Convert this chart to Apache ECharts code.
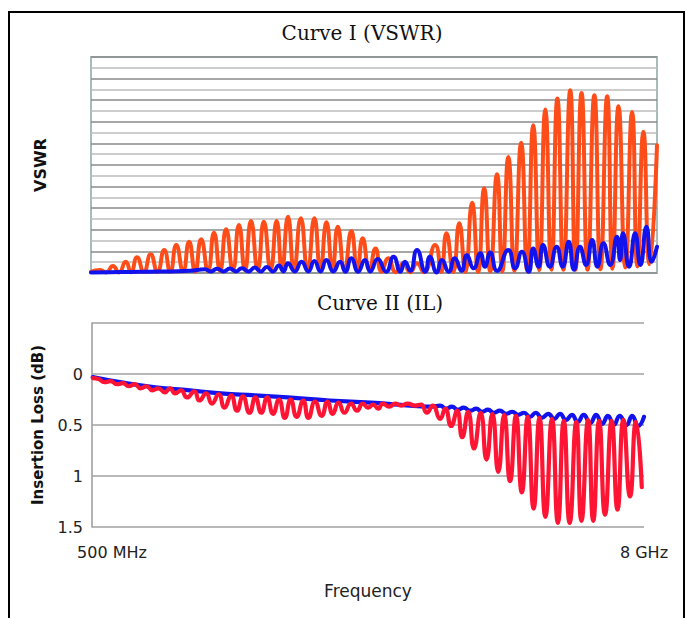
<!DOCTYPE html>
<html>
<head>
<meta charset="utf-8">
<title>Curve I (VSWR) / Curve II (IL)</title>
<script src="https://cdn.jsdelivr.net/npm/echarts@6.0.0/dist/echarts.min.js"></script>
<style>
  html, body { margin: 0; padding: 0; background: #fff; }
  #chart { width: 688px; height: 618px; }
</style>
</head>
<body>
<div id="chart"></div>
<script>
  // frequency axis end labels (GHz axis runs 0.5 .. 8)
  var freqLabels = ['500 MHz', '8 GHz']
  // insertion loss tick labels, -0.5 .. 1.5 step 0.5 (top one unlabeled)
  var ilTickLabels = ['', '0', '0.5', '1', '1.5']

  // Curve I - VSWR in grid units (20 divisions), [GHz, value]
  var vswrOrange = [
    [0.50, 0.10], [0.62, 0.28], [0.70, 0.05], [0.79, 0.65], [0.87, 0.05], [0.96, 1.04], [1.03, 0.08],
    [1.11, 1.45], [1.20, 0.10], [1.29, 1.73], [1.38, 0.10], [1.47, 2.13], [1.55, 0.12], [1.63, 2.59],
    [1.72, 0.15], [1.80, 2.89], [1.88, 0.15], [1.96, 3.12], [2.05, 0.20], [2.13, 3.73], [2.21, 0.20],
    [2.29, 4.04], [2.38, 0.25], [2.46, 4.44], [2.54, 0.25], [2.62, 4.81], [2.71, 0.30], [2.79, 4.74],
    [2.88, 0.30], [2.96, 4.81], [3.03, 0.30], [3.11, 5.21], [3.19, 0.30], [3.28, 5.06], [3.37, 0.30],
    [3.46, 5.06], [3.54, 0.30], [3.62, 4.69], [3.70, 0.30], [3.77, 4.28], [3.86, 0.30], [3.95, 3.88],
    [4.03, 0.30], [4.10, 3.21], [4.19, 0.30], [4.27, 2.28], [4.35, 0.12], [4.44, 1.36], [4.54, 0.08],
    [4.64, 0.90], [4.73, 0.08], [4.82, 0.90], [4.91, 0.08], [5.06, 2.59], [5.14, 0.10], [5.21, 3.67],
    [5.30, 0.10], [5.38, 4.60], [5.46, 0.10], [5.55, 6.50], [5.63, 0.10], [5.71, 7.83], [5.79, 0.15],
    [5.88, 9.15], [5.95, 0.15], [6.03, 10.75], [6.11, 0.20], [6.20, 12.05], [6.28, 0.20], [6.36, 13.68],
    [6.44, 0.25], [6.52, 15.14], [6.60, 0.30], [6.68, 16.15], [6.76, 0.30], [6.85, 16.92], [6.92, 0.30],
    [7.00, 16.67], [7.08, 0.30], [7.17, 16.46], [7.25, 0.35], [7.34, 16.37], [7.41, 0.40], [7.49, 15.44],
    [7.58, 0.50], [7.67, 14.91], [7.74, 0.60], [7.82, 13.07], [7.90, 0.80], [8.00, 11.84]
  ]
  var vswrBlue = [
    [0.50, 0.05], [0.75, 0.08], [1.02, 0.10], [1.28, 0.12], [1.55, 0.15], [1.81, 0.20],
    [2.01, 0.35], [2.09, 0.15], [2.17, 0.40], [2.26, 0.15], [2.34, 0.42], [2.42, 0.15], [2.50, 0.45],
    [2.59, 0.15], [2.67, 0.50], [2.75, 0.15], [2.83, 0.55], [2.91, 0.15], [2.99, 0.70], [3.05, 0.15],
    [3.11, 0.90], [3.20, 0.15], [3.29, 1.04], [3.38, 0.15], [3.46, 1.10], [3.54, 0.15], [3.62, 1.20],
    [3.71, 0.15], [3.80, 1.04], [3.87, 0.12], [3.95, 1.36], [4.04, 0.12], [4.13, 1.20], [4.20, 0.15],
    [4.30, 1.30], [4.41, 0.12], [4.51, 1.51], [4.60, 0.12], [4.66, 1.04], [4.73, 0.20], [4.82, 2.13],
    [4.93, 0.12], [4.99, 1.51], [5.08, 0.05], [5.15, 1.20], [5.24, 0.12], [5.32, 1.36], [5.41, 0.20],
    [5.48, 1.66], [5.57, 0.43], [5.66, 1.82], [5.72, 0.58], [5.79, 1.90], [5.88, 0.20], [6.03, 2.13],
    [6.12, 0.43], [6.21, 1.97], [6.30, 0.12], [6.36, 2.28], [6.43, 0.58], [6.49, 2.59], [6.58, 0.58],
    [6.67, 2.43], [6.75, 0.58], [6.83, 2.89], [6.90, 0.30], [6.98, 2.43], [7.06, 0.74], [7.14, 3.05],
    [7.21, 0.58], [7.29, 2.75], [7.38, 0.74], [7.47, 3.36], [7.51, 1.20], [7.55, 3.67], [7.63, 0.58],
    [7.71, 3.67], [7.78, 0.74], [7.86, 4.28], [7.93, 1.04], [8.00, 2.43]
  ]

  // Curve II - insertion loss in dB, [GHz, dB]
  var ilBlue = [
    [0.51, 0.03], [0.88, 0.08], [1.36, 0.13], [1.83, 0.16], [2.25, 0.19], [2.71, 0.21], [3.16, 0.23],
    [3.73, 0.26], [4.29, 0.28], [4.66, 0.30], [4.82, 0.31], [5.12, 0.32], [5.23, 0.31], [5.31, 0.34],
    [5.39, 0.32], [5.47, 0.35], [5.55, 0.33], [5.64, 0.36], [5.72, 0.34], [5.80, 0.37], [5.88, 0.35],
    [5.96, 0.38], [6.04, 0.36], [6.13, 0.39], [6.21, 0.37], [6.29, 0.40], [6.37, 0.38], [6.45, 0.42],
    [6.53, 0.38], [6.61, 0.43], [6.70, 0.39], [6.78, 0.44], [6.86, 0.39], [6.94, 0.45], [7.02, 0.40],
    [7.10, 0.47], [7.18, 0.40], [7.27, 0.48], [7.35, 0.40], [7.43, 0.49], [7.51, 0.41], [7.59, 0.50],
    [7.67, 0.41], [7.76, 0.50], [7.84, 0.41], [7.92, 0.51], [8.00, 0.42]
  ]
  var ilRed = [
    [0.51, 0.04], [0.59, 0.05], [0.67, 0.08], [0.75, 0.07], [0.84, 0.10], [0.92, 0.09], [1.00, 0.12],
    [1.08, 0.10], [1.16, 0.14], [1.24, 0.12], [1.32, 0.16], [1.40, 0.14], [1.49, 0.18], [1.56, 0.14],
    [1.63, 0.19], [1.71, 0.16], [1.79, 0.23], [1.89, 0.17], [1.96, 0.26], [2.05, 0.19], [2.13, 0.29],
    [2.22, 0.20], [2.30, 0.33], [2.39, 0.21], [2.47, 0.36], [2.55, 0.22], [2.64, 0.38], [2.72, 0.23],
    [2.80, 0.38], [2.88, 0.23], [2.96, 0.39], [3.04, 0.25], [3.12, 0.43], [3.20, 0.25], [3.28, 0.42],
    [3.37, 0.26], [3.44, 0.43], [3.53, 0.27], [3.62, 0.41], [3.70, 0.27], [3.77, 0.39], [3.85, 0.28],
    [3.93, 0.38], [4.02, 0.29], [4.10, 0.36], [4.18, 0.29], [4.25, 0.33], [4.32, 0.30], [4.39, 0.34],
    [4.45, 0.29], [4.54, 0.32], [4.62, 0.29], [4.70, 0.31], [4.79, 0.29], [4.89, 0.31], [4.97, 0.30],
    [5.05, 0.38], [5.13, 0.31], [5.23, 0.44], [5.30, 0.34], [5.38, 0.51], [5.46, 0.36], [5.53, 0.62],
    [5.61, 0.37], [5.69, 0.73], [5.78, 0.38], [5.86, 0.84], [5.94, 0.39], [6.02, 0.96], [6.10, 0.40],
    [6.18, 1.05], [6.26, 0.41], [6.34, 1.16], [6.42, 0.42], [6.50, 1.32], [6.58, 0.43], [6.66, 1.40],
    [6.75, 0.44], [6.83, 1.46], [6.91, 0.46], [6.99, 1.46], [7.08, 0.47], [7.15, 1.44], [7.24, 0.45],
    [7.31, 1.44], [7.39, 0.46], [7.47, 1.38], [7.56, 0.46], [7.64, 1.33], [7.72, 0.45], [7.81, 1.20],
    [7.89, 0.47], [7.97, 1.11]
  ]

  var sans = 'DejaVu Sans'
  var serif = 'DejaVu Serif'

  var chart = echarts.init(document.getElementById('chart'), null, {renderer: 'svg'})

  chart.setOption({
    animation: false,
    backgroundColor: '#fff',
    title: [
      {text: 'Curve I (VSWR)', left: 357, top: 18, textAlign: 'center',
        textStyle: {fontFamily: serif, fontSize: 20, fontWeight: 'normal', color: '#111'}},
      {text: 'Curve II (IL)', left: 375, top: 288, textAlign: 'center',
        textStyle: {fontFamily: serif, fontSize: 20, fontWeight: 'normal', color: '#111'}}
    ],
    graphic: [
      // outer frame
      {type: 'rect', shape: {x: 9, y: 12, width: 675, height: 630},
        style: {fill: 'none', stroke: '#000', lineWidth: 2}, silent: true}
    ],
    grid: [
      {left: 91, top: 57, width: 566, height: 216, show: true, borderColor: '#a7bbbb', borderWidth: 2},
      {left: 92, top: 323, width: 552, height: 204}
    ],
    xAxis: [
      {type: 'value', gridIndex: 0, min: 0.5, max: 8, show: false},
      {
        type: 'value', gridIndex: 1, min: 0.5, max: 8, interval: 7.5,
        axisLine: {show: false}, axisTick: {show: false}, splitLine: {show: false},
        axisLabel: {
          margin: 17, fontFamily: sans, fontSize: 16, color: '#222',
          formatter: function (v) {
            return v < 1 ? '{lo|' + freqLabels[0] + '}' : freqLabels[1]
          },
          rich: {lo: {padding: [0, 0, 0, 40], fontFamily: sans, fontSize: 16, color: '#222'}}
        },
        name: 'Frequency', nameLocation: 'middle', nameGap: 55,
        nameTextStyle: {fontFamily: sans, fontSize: 17, color: '#222'}
      }
    ],
    yAxis: [
      {
        type: 'value', gridIndex: 0, min: 0, max: 20, interval: 1,
        axisLine: {show: false}, axisTick: {show: false}, axisLabel: {show: false},
        splitLine: {lineStyle: {color: ['#8a8a8a', '#bcbcbc'], width: 1.6}},
        name: 'VSWR', nameLocation: 'middle', nameGap: 43,
        nameTextStyle: {fontFamily: sans, fontSize: 16, fontWeight: 'bold', color: '#111'}
      },
      {
        type: 'value', gridIndex: 1, inverse: true, min: -0.5, max: 1.5, interval: 0.5,
        axisLine: {show: true, lineStyle: {color: '#a0a0a0', width: 1.6}},
        axisTick: {show: false},
        axisLabel: {
          margin: 9, fontFamily: sans, fontSize: 16, color: '#222',
          formatter: function (v, i) { return ilTickLabels[i] }
        },
        splitLine: {lineStyle: {color: '#a0a0a0', width: 1.6}},
        name: 'Insertion Loss (dB)', nameLocation: 'middle', nameGap: 47,
        nameTextStyle: {fontFamily: sans, fontSize: 15, fontWeight: 'bold', color: '#111'}
      }
    ],
    series: [
      {type: 'line', name: 'VSWR 1', xAxisIndex: 0, yAxisIndex: 0, data: vswrOrange, smooth: 0.55,
        showSymbol: false, lineStyle: {color: '#ff4d1a', width: 4, cap: 'round', join: 'round'}},
      {type: 'line', name: 'VSWR 2', xAxisIndex: 0, yAxisIndex: 0, data: vswrBlue, smooth: 0.55,
        showSymbol: false, lineStyle: {color: '#1212ee', width: 4, cap: 'round', join: 'round'}},
      {type: 'line', name: 'IL 2', xAxisIndex: 1, yAxisIndex: 1, data: ilBlue, smooth: 0.5,
        showSymbol: false, lineStyle: {color: '#1212ee', width: 4.2, cap: 'round', join: 'round'}},
      {type: 'line', name: 'IL 1', xAxisIndex: 1, yAxisIndex: 1, data: ilRed, smooth: 0.55,
        showSymbol: false, lineStyle: {color: '#ff1433', width: 4.2, cap: 'round', join: 'round'}}
    ]
  })
</script>
</body>
</html>
